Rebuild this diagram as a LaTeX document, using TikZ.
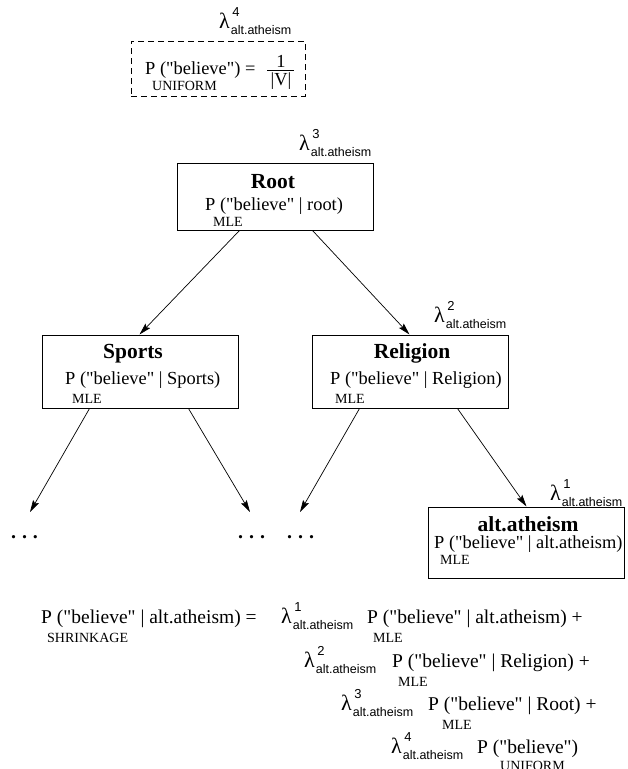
\documentclass[tikz,border=0pt]{standalone}
\usepackage{fontspec}
\setmainfont{Liberation Serif}[Ligatures=TeXOff]
\setsansfont{Liberation Sans}[Ligatures=TeXOff]
\usetikzlibrary{arrows.meta}
\newcommand\txtbox{\fontsize{18.4}{20}\selectfont}
\newcommand\txtform{\fontsize{19.5}{21}\selectfont}
\newcommand\txtsmall{\fontsize{14}{15}\selectfont}
\newcommand\txttitle{\fontsize{21.5}{22}\selectfont\bfseries}
\newcommand\lamlbl[1]{{\fontsize{22}{22}\selectfont λ}\makebox[0pt][l]{\hspace{2.5pt}\raisebox{11.5pt}{\sffamily\fontsize{13}{13}\selectfont #1}}\hspace{1pt}\raisebox{-6pt}{\sffamily\fontsize{12.5}{13}\selectfont alt.atheism}}
\begin{document}
\begin{tikzpicture}[x=1pt,y=-1pt,
  box/.style={draw, line width=1pt, inner sep=0pt, minimum width=196pt},
  lbl/.style={inner sep=0pt, anchor=base west},
  ttl/.style={inner sep=0pt, anchor=base, font=\txttitle},
  ctr/.style={inner sep=0pt, anchor=base},
  dotsty/.style={inner sep=0pt, anchor=base, font=\fontsize{20}{20}\selectfont\bfseries},
  arr/.style={-{Stealth[length=12pt,width=6.5pt,inset=2pt]}, line width=0.7pt}]
\useasboundingbox (0,0) rectangle (627,769);

% uniform box
\node[box, dash pattern=on 6pt off 4pt, minimum width=174pt, minimum height=55pt] (unifbox) at (218,68.5) {};
\node[lbl, font=\txtbox] (unifp) at (145,74) {P ("believe") =};
\node[lbl, font=\txtsmall] (unifsub) at (152,90) {UNIFORM};
\node[ctr, font=\txtbox] (one) at (281,67) {1};
\node[ctr, font=\txtbox] (absv) at (281,85) {|V|};
\draw[line width=0.8pt] (267,70.5) -- (294,70.5);
\node[lbl] (lam4) at (219,28) {\lamlbl{4}};

% root
\node[box, minimum height=67pt] (root) at (275,196.5) {};
\node[ttl] (roott) at (273,188) {Root};
\node[lbl, font=\txtbox] (rootp) at (205,210) {P ("believe" | root)};
\node[lbl, font=\txtsmall] (rootm) at (213,226) {MLE};
\node[lbl] (lam3) at (299,150) {\lamlbl{3}};

% sports
\node[box, minimum height=73pt] (sports) at (140,371.5) {};
\node[ttl] (sportst) at (133,358) {Sports};
\node[lbl, font=\txtbox] (sportsp) at (65,384) {P ("believe" | Sports)};
\node[lbl, font=\txtsmall] (sportsm) at (72,403) {MLE};

% religion
\node[box, minimum height=73pt] (relig) at (410,371.5) {};
\node[ttl] (religt) at (412,358) {Religion};
\node[lbl, font=\txtbox] (religp) at (330,384) {P ("believe" | Religion)};
\node[lbl, font=\txtsmall] (religm) at (335,403) {MLE};
\node[lbl] (lam2) at (434,322) {\lamlbl{2}};

% alt.atheism
\node[box, minimum height=71pt] (alt) at (526,542.5) {};
\node[ttl] (altt) at (528,531) {alt.atheism};
\node[lbl, font=\txtbox] (altp) at (434,548) {P ("believe" | alt.atheism)};
\node[lbl, font=\txtsmall] (altm) at (440,564) {MLE};
\node[lbl] (lam1) at (550,500) {\lamlbl{1}};

% dots
\node[dotsty] (dots1) at (24.5,538) {.\hspace{6pt}.\hspace{6pt}.};
\node[dotsty] (dots2) at (251.5,538) {.\hspace{6pt}.\hspace{6pt}.};
\node[dotsty] (dots3) at (300.5,538) {.\hspace{6pt}.\hspace{6pt}.};

% arrows
\draw[arr] ([xshift=63pt]root.south west) -- ([xshift=98pt]sports.north west);
\draw[arr] ([xshift=136pt]root.south west) -- ([xshift=98pt]relig.north west);
\draw[arr] ([xshift=48pt]sports.south west) -- ([xshift=5.5pt,yshift=26pt]dots1.base);
\draw[arr] ([xshift=147pt]sports.south west) -- ([xshift=-1.5pt,yshift=26pt]dots2.base);
\draw[arr] ([xshift=48pt]relig.south west) -- ([xshift=-0.5pt,yshift=26pt]dots3.base);
\draw[arr] ([xshift=146pt]relig.south west) -- ([xshift=99pt]alt.north west);

% formula
\node[lbl, font=\txtform] (fl) at (41,623) {P ("believe" | alt.atheism) =};
\node[lbl, font=\txtsmall] (fls) at (47,642) {SHRINKAGE};
\node[lbl] (f1l) at (281,623) {\lamlbl{1}};
\node[lbl, font=\txtform] (f1p) at (367,623) {P ("believe" | alt.atheism) +};
\node[lbl, font=\txtsmall] (f1m) at (373,642) {MLE};
\node[lbl] (f2l) at (304,667) {\lamlbl{2}};
\node[lbl, font=\txtform] (f2p) at (392,667) {P ("believe" | Religion) +};
\node[lbl, font=\txtsmall] (f2m) at (398,686) {MLE};
\node[lbl] (f3l) at (341,710) {\lamlbl{3}};
\node[lbl, font=\txtform] (f3p) at (428,710) {P ("believe" | Root) +};
\node[lbl, font=\txtsmall] (f3m) at (442,729) {MLE};
\node[lbl] (f4l) at (391,753) {\lamlbl{4}};
\node[lbl, font=\txtform] (f4p) at (477,753) {P ("believe")};
\node[lbl, font=\txtsmall] (f4m) at (500,770) {UNIFORM};
\end{tikzpicture}
\end{document}
